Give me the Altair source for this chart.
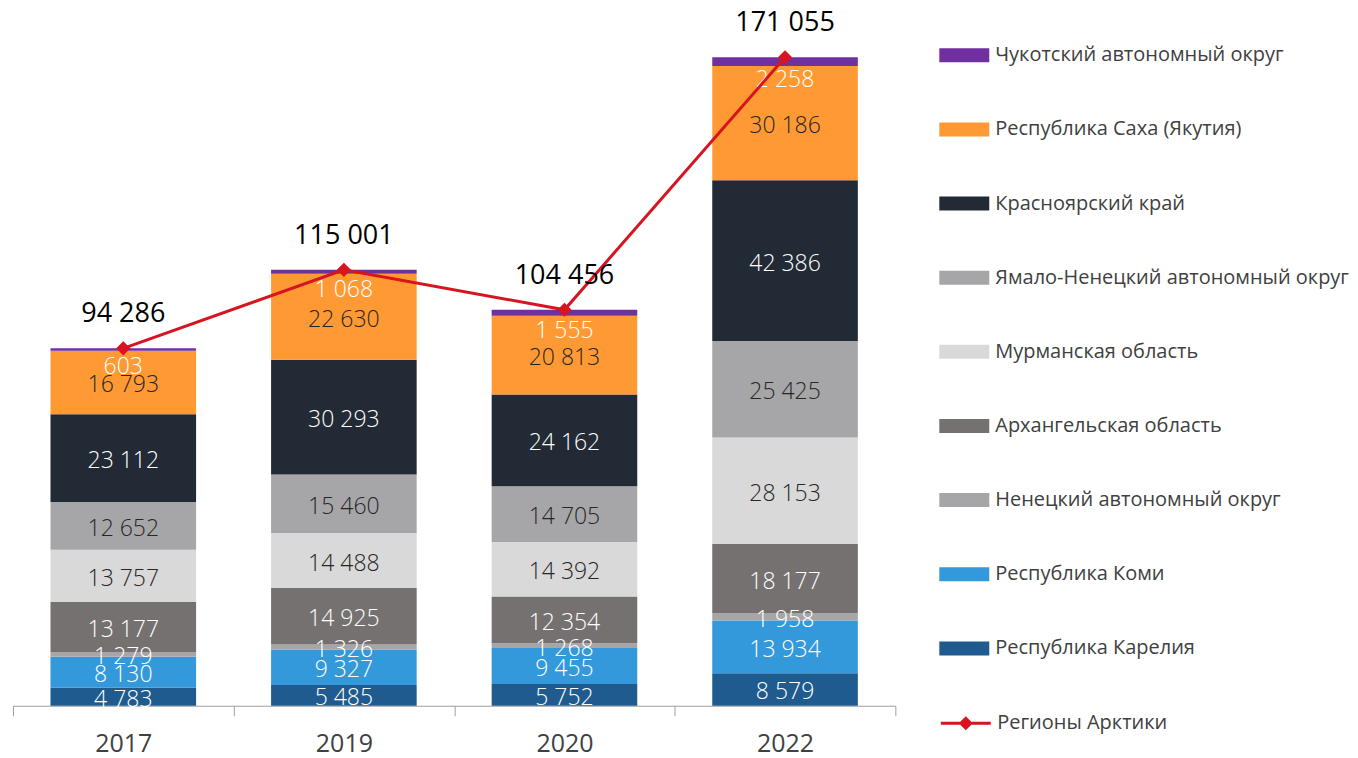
import altair as alt
import pandas as pd

years = ['2017', '2019', '2020', '2022']
series = [
    'Республика Карелия',
    'Республика Коми',
    'Ненецкий автономный округ',
    'Архангельская область',
    'Мурманская область',
    'Ямало-Ненецкий автономный округ',
    'Красноярский край',
    'Республика Саха (Якутия)',
    'Чукотский автономный округ',
]
karelia = [4783, 5485, 5752, 8579]
komi = [8130, 9327, 9455, 13934]
nenets = [1279, 1326, 1268, 1958]
arkhangelsk = [13177, 14925, 12354, 18177]
murmansk = [13757, 14488, 14392, 28153]
yamal = [12652, 15460, 14705, 25425]
krasnoyarsk = [23112, 30293, 24162, 42386]
sakha = [16793, 22630, 20813, 30186]
chukotka = [603, 1068, 1555, 2258]
totals = [94286, 115001, 104456, 171055]
line_name = 'Регионы Арктики'

# styles
fill_colors = ['#1F5B8E', '#3399DB', '#A6A6A8', '#767171', '#D9D9D9',
               '#A6A6A8', '#222A35', '#FF9933', '#7030A0']
label_colors = ['#FFFFFF', '#FFFFFF', '#FFFFFF', '#FFFFFF', '#262626',
                '#262626', '#FFFFFF', '#262626', '#FFFFFF']
line_color = '#D7141F'
FONT = 'Open Sans'

values = [karelia, komi, nenets, arkhangelsk, murmansk, yamal, krasnoyarsk, sakha, chukotka]
rows = []
for i, (name, vals) in enumerate(zip(series, values)):
    for y, v in zip(years, vals):
        rows.append({'year': y, 'series': name, 'value': v, 'order': i})
df = pd.DataFrame(rows)
tdf = pd.DataFrame({'year': years, 'total': totals, 'name': [line_name] * len(years)})

legend_order = series[::-1]
legend_fill = fill_colors[::-1]

yscale = alt.Scale(domain=[0, 184000], nice=False, zero=True)
X = alt.X('year:N', sort=years,
          scale=alt.Scale(paddingInner=0, paddingOuter=0),
          axis=alt.Axis(title=None, labelAngle=0, labelFontSize=25, labelFont=FONT,
                        labelColor='#404040', labelPadding=16, tickBand='extent',
                        tickSize=10, tickColor='#A0A0A0', domainColor='#A0A0A0',
                        grid=False))

bars = alt.Chart(df).mark_bar(strokeWidth=0, width=alt.RelativeBandSize(0.66)).encode(
    x=X,
    y=alt.Y('value:Q', stack='zero', scale=yscale, axis=None),
    fill=alt.Fill('series:N', scale=alt.Scale(domain=legend_order, range=legend_fill),
                  legend=alt.Legend(title=None, orient='none', legendX=927, legendY=22,
                                    symbolType='M-1,-0.28L1,-0.28L1,0.28L-1,0.28Z',
                                    symbolSize=2500, symbolStrokeWidth=0,
                                    labelFontSize=20, labelFont=FONT, labelColor='#404040',
                                    labelOffset=6, labelLimit=600, rowPadding=39.2, padding=0)),
    order=alt.Order('order:Q', sort='ascending'),
)

base_lab = alt.Chart(df).transform_stack(
    stack='value', groupby=['year'], as_=['v0', 'v1'],
    sort=[alt.SortField('order', 'ascending')]
).transform_calculate(
    mid='(datum.v0 + datum.v1) / 2',
    lab="replace(format(datum.value, ',d'), ',', ' ')",
)

seg_labels = base_lab.transform_filter(
    alt.datum.series != series[-1]
).mark_text(font=FONT, fontSize=23, fontWeight=300, baseline='middle', dy=3).encode(
    x=X,
    y=alt.Y('mid:Q', scale=yscale, axis=None),
    text='lab:N',
    color=alt.Color('series:N', scale=alt.Scale(domain=series, range=label_colors), legend=None),
)

chuk_labels = base_lab.transform_filter(
    alt.datum.series == series[-1]
).mark_text(font=FONT, fontSize=23, fontWeight=300, baseline='middle', dy=18, color='#FFFFFF').encode(
    x=X,
    y=alt.Y('mid:Q', scale=yscale, axis=None),
    text='lab:N',
)

line = alt.Chart(tdf).mark_line(strokeWidth=3).encode(
    x=X,
    y=alt.Y('total:Q', scale=yscale, axis=None),
    stroke=alt.Stroke('name:N', scale=alt.Scale(domain=[line_name], range=[line_color]),
                      legend=alt.Legend(title=None, orient='none', legendX=927, legendY=689,
                                        symbolType='M-1,0L1,0M-0.2,0L0,-0.2L0.2,0L0,0.2Z',
                                        symbolSize=2500, symbolStrokeWidth=3,
                                        symbolFillColor=line_color,
                                        labelFontSize=20, labelFont=FONT, labelColor='#404040',
                                        labelOffset=5, labelLimit=600, padding=0)),
)

points = alt.Chart(tdf).mark_point(shape='diamond', filled=True, size=200,
                                   color=line_color, opacity=1).encode(
    x=X,
    y=alt.Y('total:Q', scale=yscale, axis=None),
)

total_labels = alt.Chart(tdf).transform_calculate(
    lab="replace(format(datum.total, ',d'), ',', ' ')"
).mark_text(font=FONT, fontSize=27, color='#000000', dy=-34, baseline='middle').encode(
    x=X,
    y=alt.Y('total:Q', scale=yscale, axis=None),
    text='lab:N',
)

chart = alt.layer(bars, seg_labels, chuk_labels, line, points, total_labels).properties(
    width=883, height=698,
    padding={'left': 4, 'top': 0, 'right': 0, 'bottom': 0},
).configure_view(stroke=None)

chart.save('out.html', embed_options={'renderer': 'svg', 'actions': False})
